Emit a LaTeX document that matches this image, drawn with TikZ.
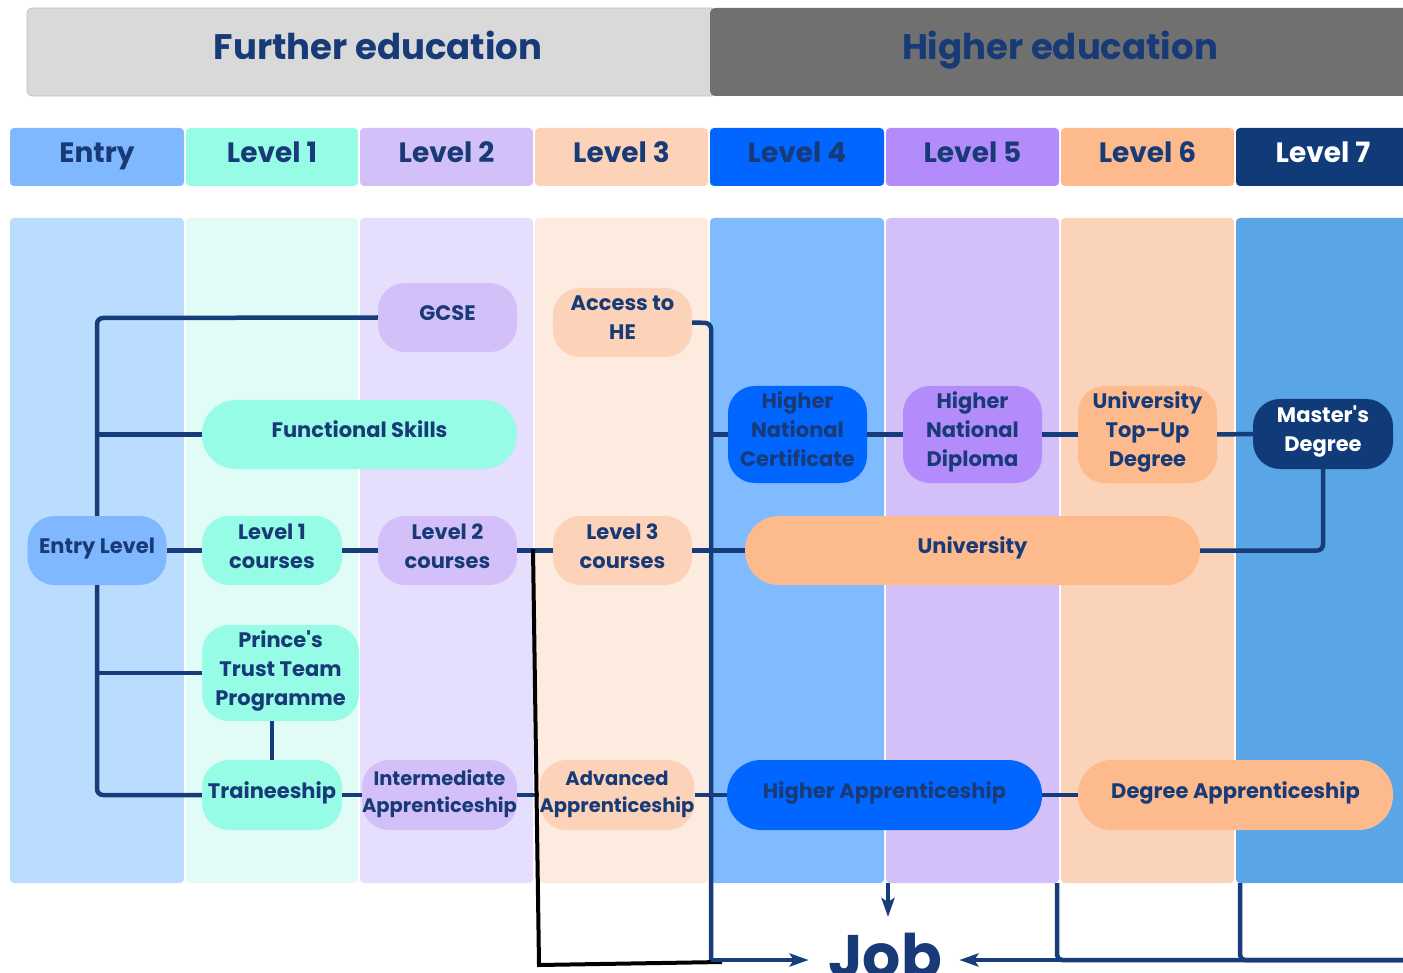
\documentclass[tikz,border=0pt]{standalone}
\usepackage{fontspec}
\setmainfont{Poppins}
\usetikzlibrary{arrows.meta,calc}
\definecolor{navy}{HTML}{183B78}
\definecolor{conn}{HTML}{163D7A}
\definecolor{feg}{HTML}{D9D9D9}
\definecolor{heg}{HTML}{707070}
\definecolor{hA}{HTML}{7FB8FF}
\definecolor{hB}{HTML}{96FCE6}
\definecolor{hC}{HTML}{D3C0F9}
\definecolor{hD}{HTML}{FCD3B8}
\definecolor{hE}{HTML}{0066FF}
\definecolor{hF}{HTML}{B38BFA}
\definecolor{hG}{HTML}{FDBA8C}
\definecolor{hH}{HTML}{103A78}
\definecolor{bA}{HTML}{BADCFF}
\definecolor{bB}{HTML}{E1FBF6}
\definecolor{bC}{HTML}{E6DEFD}
\definecolor{bD}{HTML}{FDEBE0}
\definecolor{bE}{HTML}{80BAFF}
\definecolor{bF}{HTML}{D3C0F9}
\definecolor{bG}{HTML}{FAD3B8}
\definecolor{bH}{HTML}{59A5E6}
\newcommand\nodefont{\fontsize{21}{29}\selectfont\bfseries}
\newcommand\smallnodefont{\fontsize{19.5}{27}\selectfont\bfseries}
\newcommand\levfont{\fontsize{28}{30}\selectfont\bfseries}
\newcommand\titfont{\fontsize{35.5}{40}\selectfont\bfseries}
\newcommand\jobfont{\fontsize{60}{70}\selectfont\bfseries}
\tikzset{
  nd/.style={rounded corners=27pt, inner sep=0pt, align=center, font=\nodefont, text=navy},
  capsule/.style={nd, rounded corners=34pt},
  oneline/.style={text height=15pt, text depth=9pt},
  twoline/.style={text height=44pt, text depth=9pt},
  twolines/.style={text height=42pt, text depth=8pt},
  threeline/.style={text height=73pt, text depth=9pt},
  conn/.style={draw=conn, line width=4.5pt},
  arr/.style={conn, -{Stealth[length=19pt,width=13pt,inset=4pt]}},
  levtext/.style={font=\levfont, text=navy, anchor=base},
  tittext/.style={font=\titfont, text=navy, anchor=base},
}
\begin{document}
\begin{tikzpicture}[x=1pt,y=-1pt]
\useasboundingbox (0,0) rectangle (1403,973);
% headers
\fill[feg, draw=black!25, line width=0.8pt, rounded corners=5pt] (27,8) rectangle (716,96);
\fill[heg, rounded corners=5pt] (710,8) rectangle (1420,96);
\node[tittext] (fe) at (378,60) {Further education};
\node[tittext] (he) at (1060,60) {Higher education};
% level header row
\foreach \l/\r/\c/\t [count=\i] in {10/184/hA/Entry,186/358/hB/Level 1,360/533/hC/Level 2,535/708/hD/Level 3,710/884/hE/Level 4,886/1059/hF/Level 5,1061/1234/hG/Level 6}{
  \fill[\c, rounded corners=4pt] (\l,128) rectangle (\r,186);
  \node[levtext] (lev\i) at ({(\l+\r)/2},163) {\t};
}
\fill[hH, rounded corners=4pt] (1236,128) rectangle (1420,186);
\node[levtext, text=white] (lev8) at (1323,163) {Level 7};
% column bodies
\foreach \l/\r/\c in {10/184/bA,186/358/bB,360/533/bC,535/708/bD,710/884/bE,886/1059/bF,1061/1234/bG}{
  \fill[\c, rounded corners=4pt] (\l,218) rectangle (\r,883);
}
\fill[bH, rounded corners=4pt] (1236,218) rectangle (1420,883);
% nodes
\node[nd, oneline, fill=hC, minimum width=139pt, minimum height=69pt] (gcse) at (447.5,317.5) {GCSE};
\node[nd, twoline, fill=hD, minimum width=139pt, minimum height=69pt] (access) at (622.5,322.5) {Access to\\HE};
\node[capsule, oneline, fill=hB, minimum width=315pt, minimum height=69pt] (fs) at (359.5,434.5) {Functional Skills};
\node[nd, oneline, fill=hA, minimum width=139pt, minimum height=69pt] (entry) at (97,550.5) {Entry Level};
\node[nd, twoline, fill=hB, minimum width=140pt, minimum height=69pt] (l1) at (272,550.5) {Level 1\\courses};
\node[nd, twoline, fill=hC, minimum width=139pt, minimum height=69pt] (l2) at (447.5,550.5) {Level 2\\courses};
\node[nd, twoline, fill=hD, minimum width=139pt, minimum height=69pt] (l3) at (622.5,550.5) {Level 3\\courses};
\node[capsule, oneline, fill=hG, minimum width=455pt, minimum height=69pt] (uni) at (972.5,550.5) {University};
\node[nd, threeline, fill=hE, minimum width=139pt, minimum height=97pt] (hnc) at (797.5,434.5) {Higher\\National\\Certificate};
\node[nd, threeline, fill=hF, minimum width=139pt, minimum height=97pt] (hnd) at (972.5,434.5) {Higher\\National\\Diploma};
\node[nd, threeline, fill=hG, minimum width=139pt, minimum height=97pt] (topup) at (1147.5,434.5) {University\\Top--Up\\Degree};
\node[nd, twoline, fill=hH, text=white, minimum width=140pt, minimum height=70pt] (masters) at (1323,434) {Master\textquotesingle s\\Degree};
\node[nd, threeline, fill=hB, minimum width=157pt, minimum height=96pt] (ptt) at (280.5,673) {Prince\textquotesingle s\\Trust Team\\Programme};
\node[nd, oneline, fill=hB, minimum width=140pt, minimum height=70pt] (train) at (272,795) {Traineeship};
\node[nd, twolines, fill=hC, minimum width=155pt, minimum height=70pt, font=\smallnodefont] (inter) at (439.5,795) {Intermediate\\Apprenticeship};
\node[nd, twolines, fill=hD, minimum width=152pt, minimum height=70pt, font=\smallnodefont] (adv) at (617,795) {Advanced\\Apprenticeship};
\node[capsule, oneline, fill=hE, minimum width=315pt, minimum height=70pt] (hap) at (884.5,795) {Higher Apprenticeship};
\node[capsule, oneline, fill=hG, minimum width=315pt, minimum height=70pt] (dap) at (1235.5,795) {Degree Apprenticeship};
\node[font=\jobfont, text=navy, anchor=base] (job) at (885,977) {Job};
% coordinates
\coordinate (lspine) at (97,318);
\coordinate (rspine) at (711,323);
\coordinate (jl) at (711,960);
\coordinate (jr) at (1420,960);
\coordinate (bk) at (533,549);
\coordinate (bk2) at (539,965);
\coordinate (bk3) at (722,962);
\coordinate (d4) at (888,883);
\coordinate (d4e) at (888,917);
\coordinate (v6) at (1057,883);
\coordinate (v7) at (1240,883);
% connectors left
\draw[conn, rounded corners=6pt] (gcse.west) -- (lspine) -- (entry.north);
\draw[conn] (fs.west) -- (fs.west -| entry.north);
\draw[conn, rounded corners=6pt] (entry.south) |- (train.west);
\draw[conn] (ptt.west) -- (ptt.west -| entry.south);
\draw[conn] (entry) -- (l1);
\draw[conn] (l1) -- (l2);
\draw[conn] (l2) -- (l3);
\draw[conn] (train.north) -- (train.north |- ptt.south);
\draw[conn] (train) -- (inter);
\draw[conn] (inter) -- (adv);
\draw[conn] (adv) -- (hap);
\draw[conn] (hap) -- (dap);
% right spine
\draw[conn, rounded corners=6pt] (access.east) -- (rspine) -- (jl);
\draw[conn] (l3) -- (uni);
\draw[conn] (hnc.west) -- (hnc.west -| rspine);
\draw[conn] (hnc) -- (hnd);
\draw[conn] (hnd) -- (topup);
\draw[conn] (topup) -- (masters);
\draw[conn, rounded corners=6pt] (uni.east) -| (masters.south);
% black line
\draw[black, line width=4pt] (bk) -- (bk2) -- (bk3);
% to job
\draw[arr, shorten >=16pt] (jl) -- (jl -| job.west);
\draw[arr] (d4) -- (d4e);
\draw[arr, shorten >=14pt] (jr) -- (jr -| job.east);
\draw[conn, rounded corners=5pt] (v6) |- (jr);
\draw[conn, rounded corners=5pt] (v7) |- (jr);
\end{tikzpicture}
\end{document}
